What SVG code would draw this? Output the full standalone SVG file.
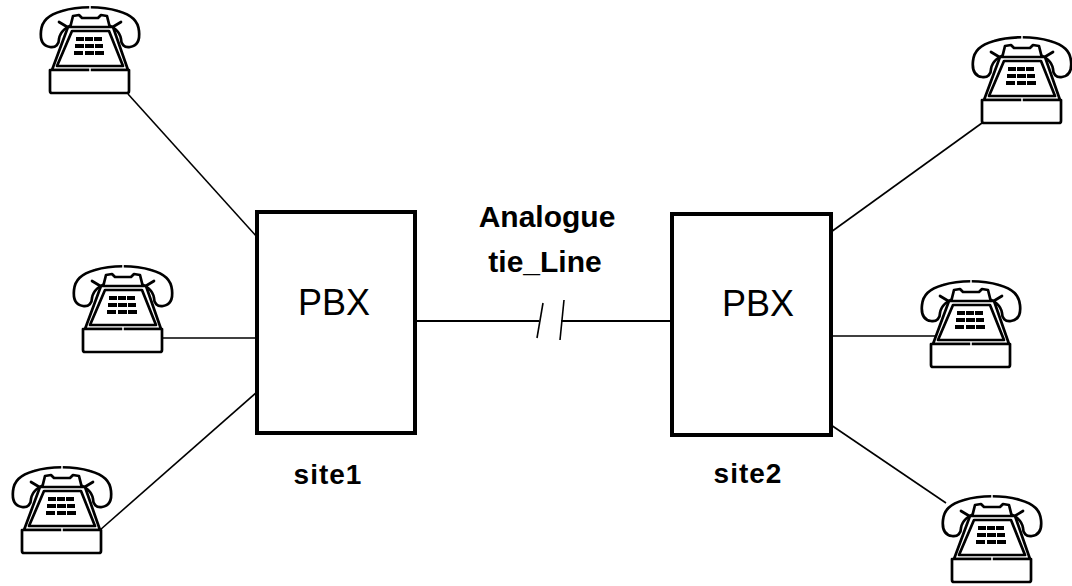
<svg xmlns="http://www.w3.org/2000/svg" xmlns:xlink="http://www.w3.org/1999/xlink" width="1072" height="586" viewBox="0 0 1072 586">
  <style>
    .ln { stroke: #000; stroke-width: 2.7; stroke-linejoin: round; stroke-linecap: round; }
    .wf { fill: #fff; }
    .cord { stroke: #000; stroke-width: 1.6; fill: none; }
    .tie { stroke: #000; stroke-width: 2.2; fill: none; }
    .box { fill: #fff; stroke: #000; stroke-width: 4; }
    .pbx { font-family: "Liberation Sans", Arial, sans-serif; font-size: 36px; fill: #000; text-anchor: middle; }
    .lbl { font-family: "Liberation Sans", Arial, sans-serif; font-size: 28px; font-weight: bold; fill: #000; text-anchor: middle; letter-spacing: 1px; }
    .tl { font-family: "Liberation Sans", Arial, sans-serif; font-size: 30px; font-weight: bold; fill: #000; text-anchor: middle; }
  </style>
  <defs>
    <!-- desk telephone, 100 x 92 units -->
    <g id="phone">
      <path class="ln wf" d="M10,44 C3,43 0,37 1,28 C2,18 8,12 22,8 C38,3 62,3 78,8 C92,12 98,18 99,28 C100,37 97,43 90,44 C84,45 81,41 81,36 C80,29 74,23 64,21 L36,21 C26,23 20,29 19,36 C19,41 16,45 10,44 Z"/>
      <path class="ln" fill="none" d="M19,19 L29,25 M81,19 L71,25"/>
      <path class="ln wf" d="M30,25 L33,13 L39,12 L42,15 L58,15 L61,12 L67,13 L70,25 Z"/>
      <path class="ln wf" d="M28,24 L73,24 L88,67 L12,67 Z"/>
      <path class="ln" fill="none" stroke-width="2" d="M32,28 L69,28 L83,63 L17,63 Z"/>
      <g fill="#000">
        <rect x="36" y="34" width="8" height="4"/>
        <rect x="45" y="34" width="8" height="4"/>
        <rect x="54" y="34" width="8" height="4"/>
        <rect x="35" y="41" width="9" height="4"/>
        <rect x="45" y="41" width="9" height="4"/>
        <rect x="55" y="41" width="8" height="4"/>
        <rect x="34" y="48" width="9" height="4"/>
        <rect x="45" y="48" width="9" height="4"/>
        <rect x="55" y="48" width="9" height="4"/>
      </g>
      <path class="ln wf" d="M10,67 L89,67 L89,88 Q89,90 87,90 L12,90 Q10,90 10,88 Z"/>
      <path stroke="#fff" stroke-width="1.5" d="M50,2 L50,6 M50,65 L50,69"/>
    </g>
  </defs>

  <!-- connectors -->
  <g id="connectors">
    <line class="cord" x1="128" y1="94" x2="257" y2="237"/>
    <line class="cord" x1="161" y1="338" x2="257" y2="338"/>
    <line class="cord" x1="100" y1="530" x2="257" y2="392"/>
    <line class="cord" x1="982" y1="123" x2="831" y2="232"/>
    <line class="cord" x1="935" y1="336" x2="831" y2="336"/>
    <line class="cord" x1="946" y1="503" x2="831" y2="425"/>
    <!-- tie line with break marks -->
    <line class="tie" x1="415" y1="321" x2="539" y2="321"/>
    <line class="tie" x1="561" y1="321" x2="672" y2="321"/>
    <line class="cord" x1="537" y1="338" x2="543" y2="303"/>
    <line class="cord" x1="560" y1="340" x2="564" y2="300"/>
  </g>

  <g id="pbx1">
    <rect class="box" x="257" y="212" width="158" height="221"/>
    <text class="pbx" x="334" y="315">PBX</text>
    <text class="lbl" x="328" y="484">site1</text>
  </g>

  <g id="pbx2">
    <rect class="box" x="672" y="214" width="159" height="221"/>
    <text class="pbx" x="758" y="316">PBX</text>
    <text class="lbl" x="748" y="483">site2</text>
  </g>

  <g id="tie-label">
    <text class="tl" x="547" y="227">Analogue</text>
    <text class="tl" x="545" y="272">tie_Line</text>
  </g>

  <g id="phone1"><use xlink:href="#phone" x="40" y="3"/></g>
  <g id="phone2"><use xlink:href="#phone" x="73" y="262"/></g>
  <g id="phone3"><use xlink:href="#phone" x="12" y="463"/></g>
  <g id="phone4"><use xlink:href="#phone" x="972" y="33"/></g>
  <g id="phone5"><use xlink:href="#phone" x="921" y="277"/></g>
  <g id="phone6"><use xlink:href="#phone" x="942" y="492"/></g>
</svg>
